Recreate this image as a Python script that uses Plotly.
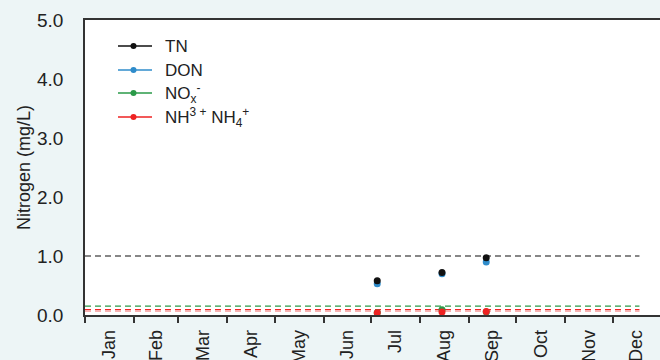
import plotly.graph_objects as go

# Data
sample_dates = ["2023-07-05", "2023-08-15", "2023-09-12"]
tn = [0.58, 0.72, 0.97]
don = [0.53, 0.70, 0.90]
nox = [0.04, 0.09, 0.05]
nh = [0.04, 0.05, 0.06]

series_names = ["TN", "DON", "NO<sub>x</sub><sup>-</sup>", "NH<sup>3 +</sup> NH<sub>4</sub><sup>+</sup>"]
series_colors = ["#111111", "#2f8ccb", "#2a9a48", "#ee2222"]

# Guideline (threshold) levels
guide_start, guide_end = "2023-01-01", "2023-12-18"
guide_tn = 1.0
guide_nox = 0.15
guide_nh = 0.09
guide_nh2 = 0.065

W, H = 660, 360
ML, MR, MT, MB = 85, 0, 20, 45
PW, PH = W - ML - MR, H - MT - MB

fig = go.Figure()

for lvl, col in [(guide_tn, "#111111"), (guide_nox, "#2a9a48"), (guide_nh, "#ee2222"), (guide_nh2, "#f59a9a")]:
    fig.add_trace(go.Scatter(x=[guide_start, guide_end], y=[lvl, lvl], mode="lines",
                             line=dict(color=col, width=1.2, dash="6px,4px"),
                             showlegend=False, hoverinfo="skip"))

data = {"TN": tn, "DON": don, "NOX": nox, "NH": nh}
order = [("DON", 1), ("NOX", 2), ("NH", 3), ("TN", 0)]
for key, idx in order:
    fig.add_trace(go.Scatter(x=sample_dates, y=data[key], mode="markers",
                             marker=dict(color=series_colors[idx], size=7),
                             showlegend=False))

# Manual legend (pixel layout converted to paper coords)
def px_x(px):
    return (px - ML) / PW

def px_y(py):
    return (H - MB - py) / PH

legend_rows = [46, 70, 93, 117]
for name, col, ry in zip(series_names, series_colors, legend_rows):
    fig.add_shape(type="line", xref="paper", yref="paper",
                  x0=px_x(118), x1=px_x(152), y0=px_y(ry), y1=px_y(ry),
                  line=dict(color=col, width=1.5))
    fig.add_shape(type="circle", xref="paper", yref="paper",
                  x0=px_x(130.5), x1=px_x(136.5), y0=px_y(ry + 3), y1=px_y(ry - 3),
                  fillcolor=col, line=dict(color=col, width=0))
    fig.add_annotation(x=px_x(163), y=px_y(ry), xref="paper", yref="paper",
                       text=name, showarrow=False, xanchor="left", yanchor="middle",
                       font=dict(size=17, color="#222222"))

fig.update_layout(
    width=W, height=H,
    margin=dict(l=ML, r=MR, t=MT, b=MB),
    paper_bgcolor="#edf5f6",
    plot_bgcolor="#ffffff",
    font=dict(family="Liberation Sans, Arial, sans-serif", size=18, color="#222222"),
    showlegend=False,
    xaxis=dict(type="date", range=["2023-01-01", "2023-12-31"], automargin=False,
               dtick="M1", tick0="2023-01-01", tickformat="%b", ticklabelmode="period",
               tickangle=-90, ticks="outside", ticklen=6, tickwidth=1.5, tickcolor="#333333",
               showgrid=False, zeroline=False,
               showline=True, linecolor="#333333", linewidth=1.5, mirror=True,
               tickfont=dict(size=18)),
    yaxis=dict(range=[0, 5], dtick=1, tickformat=".1f", showgrid=False, zeroline=False,
               automargin=False,
               showline=True, linecolor="#333333", linewidth=1.5,
               ticks="", ticklabelstandoff=16, tickfont=dict(size=19),
               title=dict(text="Nitrogen (mg/L)", font=dict(size=18), standoff=2)),
)

fig.write_html("out.html", config={"displayModeBar": False},
               post_script="document.body.style.margin='0';document.body.style.overflow='hidden';")
